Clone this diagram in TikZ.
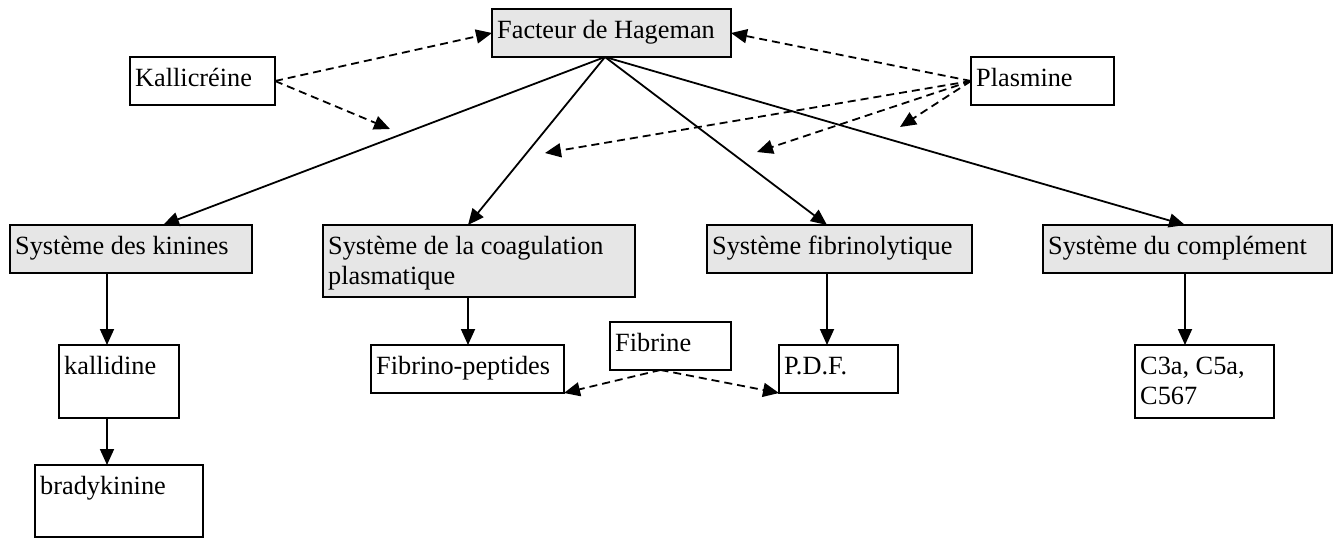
\documentclass[tikz,border=0pt]{standalone}
\usepackage{fontspec}
\setmainfont{Liberation Serif}
\usetikzlibrary{arrows.meta}
\definecolor{boxgray}{RGB}{230,230,230}
\tikzset{
  bx/.style={draw, line width=1.9pt, anchor=north west, inner sep=0pt, outer sep=0pt},
  gbx/.style={bx, fill=boxgray},
  lbl/.style={anchor=base west, inner sep=0pt, font=\fontsize{26.3}{30}\selectfont},
  arr/.style={line width=1.8pt, -{Triangle[length=16pt,width=14pt]}},
  darr/.style={arr, dash pattern=on 8pt off 5pt},
}
\newcommand\mybox[7]{%
  \node[#1, minimum width=#5pt, minimum height=#6pt] (#2) at (#3,#4) {};
  \node[lbl] (#2-t) at ([shift={(5pt,-29pt)}]#2.north west) {\begin{tabular}[t]{@{}l@{}}#7\end{tabular}};
}
\begin{document}
\begin{tikzpicture}[x=1pt,y=-1pt]
\useasboundingbox (0,0) rectangle (1339,538);
% boxes
\mybox{gbx}{hag}{492}{9}{239}{48}{Facteur de Hageman}
\mybox{bx}{kal}{130}{57}{145}{48}{Kallicréine}
\mybox{bx}{pla}{971}{57}{143}{48}{Plasmine}
\mybox{gbx}{kin}{10}{225}{242}{48}{Système des kinines}
\mybox{gbx}{coa}{323}{225}{312}{72}{Système de la coagulation\\plasmatique}
\mybox{gbx}{fib}{707}{225}{265}{48}{Système fibrinolytique}
\mybox{gbx}{com}{1043}{225}{289}{48}{Système du complément}
\mybox{bx}{kld}{59}{345}{120}{73}{kallidine}
\mybox{bx}{bra}{35}{465}{168}{72}{bradykinine}
\mybox{bx}{fpe}{371}{345}{193}{48}{Fibrino-peptides}
\mybox{bx}{fbr}{610}{322}{121}{48}{Fibrine}
\mybox{bx}{pdf}{779}{345}{119}{48}{P.D.F.}
\mybox{bx}{c3a}{1135}{345}{139}{73}{C3a, C5a,\\C567}
% free ends
\coordinate (k1) at (390,129);
\coordinate (p1) at (545,153);
\coordinate (p2) at (757,152);
\coordinate (p3) at (900,127);
% solid arrows from Hageman
\draw[arr] ([xshift=-6.5pt]hag.south) -- ([xshift=153pt]kin.north west);
\draw[arr] ([xshift=-6.5pt]hag.south) -- ([xshift=145pt]coa.north west);
\draw[arr] ([xshift=-6.5pt]hag.south) -- ([xshift=120pt]fib.north west);
\draw[arr] ([xshift=-6.5pt]hag.south) -- ([xshift=142pt]com.north west);
% vertical arrows
\draw[arr] ([xshift=97pt]kin.south west) -- ([xshift=48pt]kld.north west);
\draw[arr] ([xshift=48pt]kld.south west) -- ([xshift=72pt]bra.north west);
\draw[arr] ([xshift=145pt]coa.south west) -- ([xshift=97pt]fpe.north west);
\draw[arr] ([xshift=120pt]fib.south west) -- ([xshift=48pt]pdf.north west);
\draw[arr] ([xshift=142pt]com.south west) -- ([xshift=50pt]c3a.north west);
% dashed arrows
\draw[darr] (kal.east) -- (hag.west);
\draw[darr] (kal.east) -- (k1);
\draw[darr] (pla.west) -- (hag.east);
\draw[darr] (pla.west) -- (p1);
\draw[darr] (pla.west) -- (p2);
\draw[darr] (pla.west) -- (p3);
\draw[darr] ([xshift=-10pt]fbr.south) -- (fpe.south east);
\draw[darr] ([xshift=-10pt]fbr.south) -- (pdf.south west);
\end{tikzpicture}
\end{document}
